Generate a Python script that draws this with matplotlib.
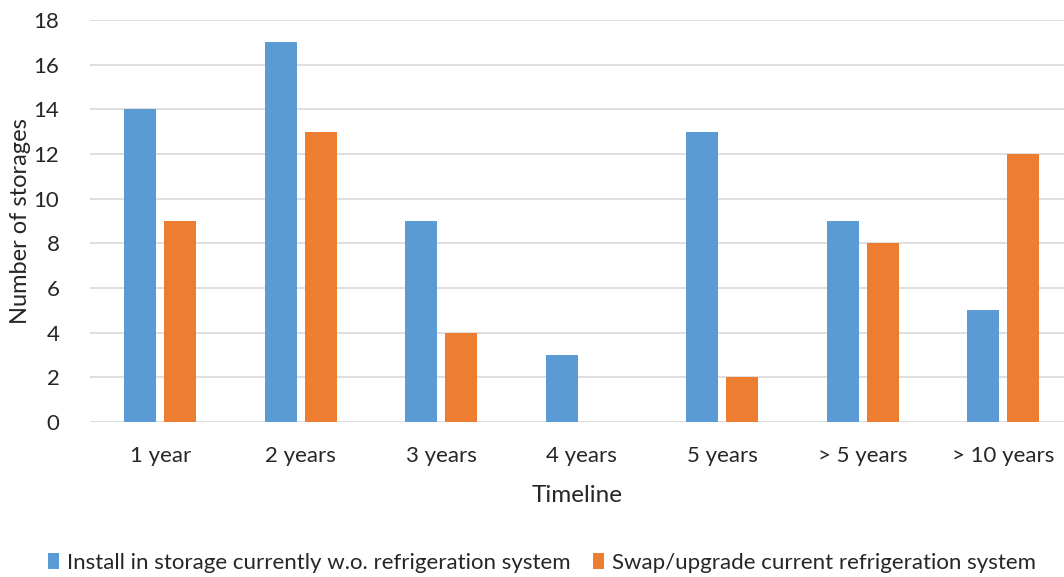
import matplotlib.pyplot as plt
import numpy as np

categories = ['1 year', '2 years', '3 years', '4 years', '5 years', '> 5 years', '> 10 years']
install_new = [14, 17, 9, 3, 13, 9, 5]
swap_upgrade = [9, 13, 4, 0, 2, 8, 12]
series_names = ['Install in storage currently w.o. refrigeration system',
                'Swap/upgrade current refrigeration system']

plt.rcParams['font.family'] = ['Lato', 'DejaVu Sans']

fig = plt.figure(figsize=(10.64, 5.77), dpi=100)
ax = fig.add_axes([90/1064, 155/577, 974/1064, 402/577])

x = np.arange(len(categories))
w = 0.228
ax.bar(x - 0.142, install_new, w, color='#5B9BD5', label=series_names[0], zorder=3)
ax.bar(x + 0.142, swap_upgrade, w, color='#ED7D31', label=series_names[1], zorder=3)

ax.set_xlim(-0.5, 6.434)
ax.set_ylim(0, 18)
ax.set_yticks(range(0, 19, 2))
ax.set_xticks(x)
ax.set_xticklabels(categories)
ax.grid(axis='y', color='#d9d9d9', linewidth=1.2, zorder=0)
for s in ax.spines.values():
    s.set_visible(False)
ax.tick_params(length=0, labelsize=16, colors='#262626')
ax.tick_params(axis='y', pad=22)
ax.tick_params(axis='x', pad=17)
ax.set_xlabel('Timeline', fontsize=17.5, color='#262626', labelpad=14)
ax.set_ylabel('Number of storages', fontsize=17, color='#262626', labelpad=2)

fig.legend(loc='center', bbox_to_anchor=(542/1064, 1 - 563/577), ncol=2, frameon=False,
           fontsize=16, handlelength=0.5, handleheight=0.7, handletextpad=0.35,
           columnspacing=1.0, labelcolor='#262626')

fig.savefig('out.png', dpi=100)
